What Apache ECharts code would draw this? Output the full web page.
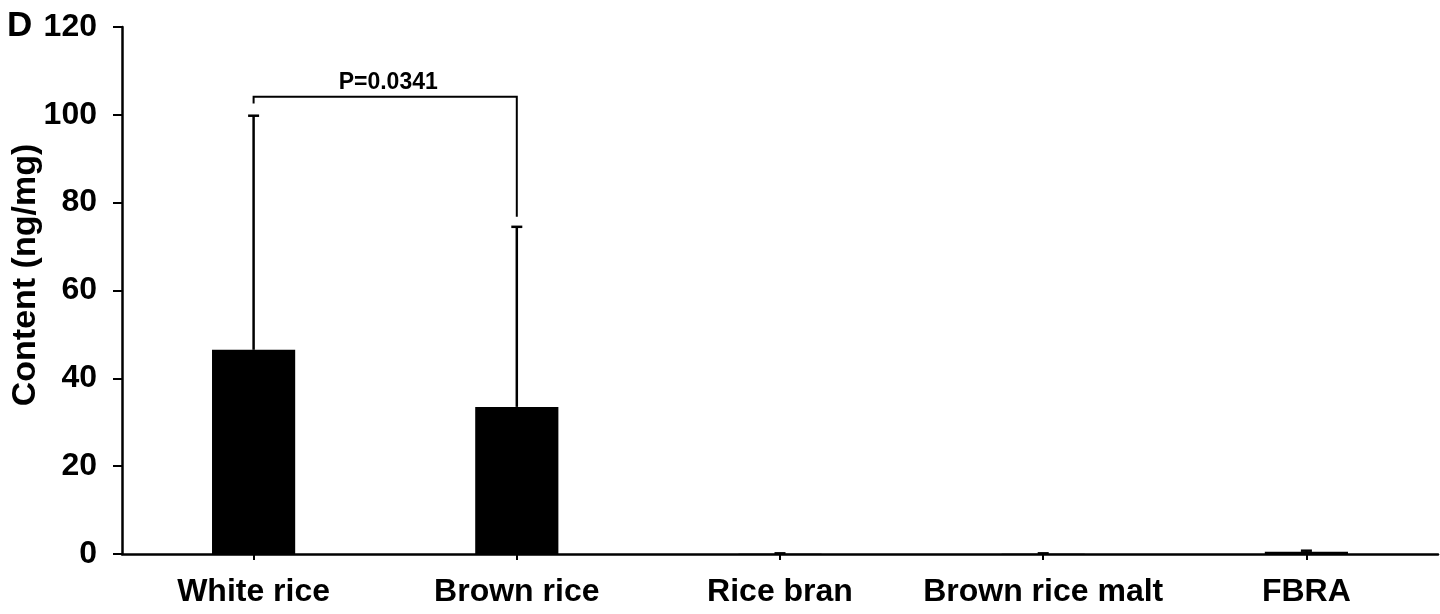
<!DOCTYPE html>
<html>
<head>
<meta charset="utf-8">
<script src="https://cdn.jsdelivr.net/npm/echarts@6/dist/echarts.min.js"></script>
<style>html,body{margin:0;padding:0;background:#fff;}#c{width:1440px;height:614px;}</style>
</head>
<body>
<div id="c"></div>
<script>
var categories = ['White rice', 'Brown rice', 'Rice bran', 'Brown rice malt', 'FBRA'];
var means = [46.5, 33.5, 0.05, 0.05, 0.5];
var errors = [53.3, 41.0, 0.1, 0.1, 0.25];
var yTicks = { min: 0, max: 120, interval: 20 };
// bracket: [fromIndex, toIndex, topValue, leftLegBottom, rightLegBottom, label]
var bracket = [0, 1, 104.1, 102.6, 76.8, 'P=0.0341'];
var panelLetter = 'D';
var yTitle = 'Content (ng/mg)';

var FONT = '"Liberation Sans", Arial, sans-serif';
var chart = echarts.init(document.getElementById('c'));

var errData = categories.map(function (c, i) { return [i, means[i], means[i] + errors[i]]; });

chart.setOption({
  animation: false,
  grid: { left: 122, right: 2, top: 27, bottom: 60, containLabel: false },
  xAxis: {
    type: 'category',
    data: categories,
    boundaryGap: true,
    axisLine: { lineStyle: { color: '#000', width: 2.5 } },
    axisTick: { show: true, alignWithLabel: true, length: 6, lineStyle: { color: '#000', width: 2 } },
    axisLabel: { color: '#000', fontFamily: FONT, fontWeight: 'bold', fontSize: 32, margin: 22, interval: 0, hideOverlap: false },
    splitLine: { show: false }
  },
  yAxis: {
    type: 'value',
    min: yTicks.min, max: yTicks.max, interval: yTicks.interval,
    axisLine: { show: true, lineStyle: { color: '#000', width: 2.5 } },
    axisTick: { show: true, length: 9, lineStyle: { color: '#000', width: 2 } },
    axisLabel: { color: '#000', fontFamily: FONT, fontWeight: 'bold', fontSize: 32, margin: 25 },
    splitLine: { show: false }
  },
  graphic: [
    { type: 'text', left: 7, top: 9, style: { text: panelLetter, font: 'bold 35px ' + FONT, fill: '#000' } },
    { type: 'text', x: 26, y: 275, rotation: Math.PI / 2,
      style: { text: yTitle, font: 'bold 34px ' + FONT, fill: '#000', align: 'center', verticalAlign: 'middle' } }
  ],
  series: [
    {
      type: 'bar',
      data: means,
      barWidth: '31.6%',
      itemStyle: { color: '#000' },
      z: 2
    },
    {
      type: 'custom',
      data: errData,
      z: 3,
      renderItem: function (params, api) {
        var i = api.value(0);
        var lo = api.coord([i, api.value(1)]);
        var hi = api.coord([i, api.value(2)]);
        var w = 5.5;
        return {
          type: 'group',
          children: [
            { type: 'line', shape: { x1: hi[0], y1: lo[1], x2: hi[0], y2: hi[1] }, style: { stroke: '#000', lineWidth: 2.5 } },
            { type: 'line', shape: { x1: hi[0] - w, y1: hi[1], x2: hi[0] + w, y2: hi[1] }, style: { stroke: '#000', lineWidth: 2.5 } }
          ]
        };
      }
    },
    {
      type: 'custom',
      data: [bracket.slice(0, 5)],
      z: 4,
      renderItem: function (params, api) {
        var a = api.value(0), b = api.value(1);
        var top = api.value(2), lb = api.value(3), rb = api.value(4);
        var p1 = api.coord([a, top]), p2 = api.coord([b, top]);
        var l1 = api.coord([a, lb]), r1 = api.coord([b, rb]);
        return {
          type: 'group',
          children: [
            { type: 'polyline', shape: { points: [[l1[0], l1[1]], [p1[0], p1[1]], [p2[0], p2[1]], [r1[0], r1[1]]] },
              style: { stroke: '#000', lineWidth: 2, fill: null } },
            { type: 'text', x: (p1[0] + p2[0]) / 2 + 3, y: p1[1] - 14,
              style: { text: bracket[5], font: 'bold 23px ' + FONT, fill: '#000', align: 'center', verticalAlign: 'middle' } }
          ]
        };
      }
    }
  ]
});
</script>
</body>
</html>
